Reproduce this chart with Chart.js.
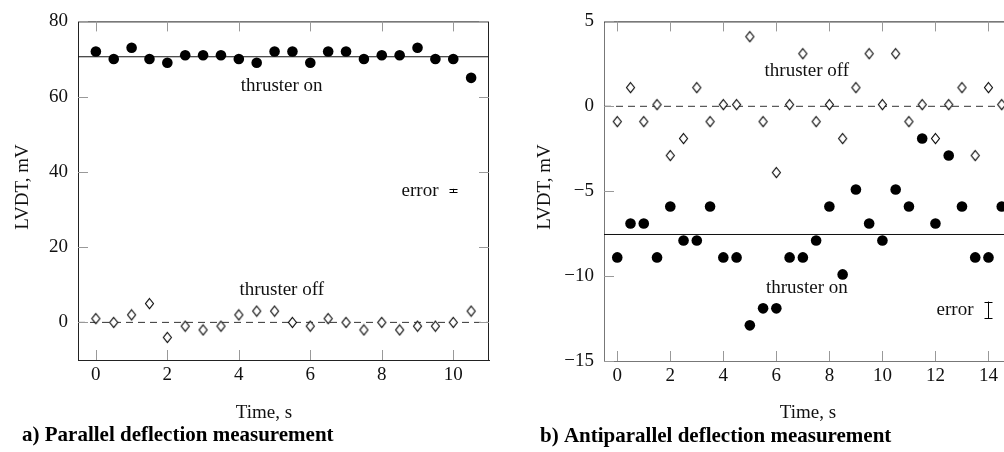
<!DOCTYPE html>
<html>
<head>
<meta charset="utf-8">
<script src="https://cdn.jsdelivr.net/npm/chart.js@4.4.1/dist/chart.umd.min.js"></script>
<style>
  html, body { margin: 0; padding: 0; background: #fff; overflow: hidden; }
  body { width: 1004px; height: 452px; position: relative; }
  canvas { position: absolute; top: 0; }
  #chartA { left: 0; }
  #chartB { left: 520px; }
</style>
</head>
<body>
<canvas id="chartA" width="520" height="452"></canvas>
<canvas id="chartB" width="530" height="452"></canvas>
<script>
// a) parallel deflection
const timeA = [0, 0.5, 1, 1.5, 2, 2.5, 3, 3.5, 4, 4.5, 5, 5.5, 6, 6.5, 7, 7.5, 8, 8.5, 9, 9.5, 10, 10.5];
const onA = [72, 70, 73, 70, 69, 71, 71, 71, 70, 69, 72, 72, 69, 72, 72, 70, 71, 71, 73, 70, 70, 65];
const offA = [1, 0, 2, 5, -4, -1, -2, -1, 2, 3, 3, 0, -1, 1, 0, -2, 0, -2, -1, -1, 0, 3];
const meanOnA = 70.6;
const meanOffA = 0;
const errorA = [10, 35, 0.5]; // time, value, half-width
const xTicksA = [0, 2, 4, 6, 8, 10];
const yTicksA = [0, 20, 40, 60, 80];

// b) antiparallel deflection
const timeB = [0, 0.5, 1, 1.5, 2, 2.5, 3, 3.5, 4, 4.5, 5, 5.5, 6, 6.5, 7, 7.5, 8, 8.5, 9, 9.5, 10, 10.5, 11, 11.5, 12, 12.5, 13, 13.5, 14, 14.5];
const onB = [-8.9, -6.9, -6.9, -8.9, -5.9, -7.9, -7.9, -5.9, -8.9, -8.9, -12.9, -11.9, -11.9, -8.9, -8.9, -7.9, -5.9, -9.9, -4.9, -6.9, -7.9, -4.9, -5.9, -1.9, -6.9, -2.9, -5.9, -8.9, -8.9, -5.9];
const offB = [-0.9, 1.1, -0.9, 0.1, -2.9, -1.9, 1.1, -0.9, 0.1, 0.1, 4.1, -0.9, -3.9, 0.1, 3.1, -0.9, 0.1, -1.9, 1.1, 3.1, 0.1, 3.1, -0.9, 0.1, -1.9, 0.1, 1.1, -2.9, 1.1, 0.1];
const meanOnB = -7.55;
const meanOffB = 0;
const errorB = [14, -12, 0.5];
const xTicksB = [0, 2, 4, 6, 8, 10, 12, 14];
const yTicksB = [-15, -10, -5, 0, 5];

const serif = '"Liberation Serif", "Times New Roman", serif';

// open diamond marker, a bit taller than wide
const diamond = document.createElement('canvas');
diamond.width = 11;
diamond.height = 13;
const dctx = diamond.getContext('2d');
dctx.beginPath();
dctx.moveTo(5.5, 1.5);
dctx.lineTo(9.5, 6.5);
dctx.lineTo(5.5, 11.5);
dctx.lineTo(1.5, 6.5);
dctx.closePath();
dctx.fillStyle = '#fff';
dctx.fill();
dctx.lineWidth = 1.1;
dctx.strokeStyle = '#000';
dctx.stroke();

const fmt = v => String(v).replace('-', '\u2212');

// frame, inward ticks, error bar and text labels
const decor = {
  id: 'decor',
  afterDraw(chart, args, o) {
    const {ctx, chartArea: a, scales: {x, y}} = chart;
    ctx.save();
    ctx.lineWidth = 1;

    ctx.strokeStyle = '#222';
    ctx.beginPath();
    ctx.moveTo(a.left, a.top + 0.5);
    ctx.lineTo(a.right, a.top + 0.5);
    ctx.moveTo(a.right - 0.5, a.top);
    ctx.lineTo(a.right - 0.5, a.bottom);
    ctx.stroke();

    ctx.strokeStyle = '#999';
    ctx.beginPath();
    x.ticks.forEach(t => {
      const px = Math.round(x.getPixelForValue(t.value)) + 0.5;
      ctx.moveTo(px, a.bottom);
      ctx.lineTo(px, a.bottom - 10);
      ctx.moveTo(px, a.top);
      ctx.lineTo(px, a.top + 10);
    });
    y.ticks.forEach(t => {
      const py = Math.round(y.getPixelForValue(t.value)) + 0.5;
      ctx.moveTo(a.left, py);
      ctx.lineTo(a.left + 10, py);
      ctx.moveTo(a.right, py);
      ctx.lineTo(a.right - 10, py);
    });
    ctx.stroke();

    // error bar
    const [ex, ey, ee] = o.error;
    const bx = Math.round(x.getPixelForValue(ex)) + 0.5;
    const top = y.getPixelForValue(ey + ee);
    const bot = y.getPixelForValue(ey - ee);
    ctx.strokeStyle = '#000';
    ctx.beginPath();
    ctx.moveTo(bx, top);
    ctx.lineTo(bx, bot);
    ctx.moveTo(bx - 4, Math.round(top) + 0.5);
    ctx.lineTo(bx + 4, Math.round(top) + 0.5);
    ctx.moveTo(bx - 4, Math.round(bot) - 0.5);
    ctx.lineTo(bx + 4, Math.round(bot) - 0.5);
    ctx.stroke();

    ctx.fillStyle = '#111';
    ctx.font = '19px ' + serif;
    ctx.textBaseline = 'middle';
    ctx.textAlign = 'right';
    ctx.fillText('error', bx - 15, y.getPixelForValue(ey));

    ctx.textAlign = 'center';
    o.notes.forEach(n => ctx.fillText(n.text, x.getPixelForValue(n.x), y.getPixelForValue(n.y)));

    ctx.fillText('Time, s', o.xTitle[0], o.xTitle[1]);

    ctx.save();
    ctx.translate(o.yTitle[0], o.yTitle[1]);
    ctx.rotate(-Math.PI / 2);
    ctx.fillText('LVDT, mV', 0, 0);
    ctx.restore();

    ctx.textAlign = 'left';
    ctx.font = 'bold 21px ' + serif;
    ctx.fillStyle = '#000';
    ctx.fillText(o.caption, o.captionPos[0], o.captionPos[1]);
    ctx.restore();
  }
};

const makeChart = (id, p) => {
  const canvas = document.getElementById(id);
  const W = canvas.width, H = canvas.height;
  const pts = vals => p.time.map((t, i) => ({x: t, y: vals[i]}));
  return new Chart(canvas, {
    type: 'scatter',
    data: {
      datasets: [
        {data: pts(p.on), pointStyle: 'circle', pointRadius: 5.3, backgroundColor: '#000', borderWidth: 0, order: 1},
        {data: pts(p.off), pointStyle: diamond, pointRadius: 5, order: 1},
        {type: 'line', data: [{x: p.xMin, y: p.meanOn}, {x: p.xMax, y: p.meanOn}], borderColor: '#111', borderWidth: 1, pointRadius: 0, order: 2},
        {type: 'line', data: [{x: p.xMin, y: p.meanOff}, {x: p.xMax, y: p.meanOff}], borderColor: '#333', borderWidth: 1, borderDash: [7, 5], pointRadius: 0, order: 2}
      ]
    },
    options: {
      responsive: false,
      animation: false,
      events: [],
      layout: {padding: {left: 0, top: p.area.top, right: W - p.area.right, bottom: 0}},
      plugins: {
        legend: {display: false},
        tooltip: {enabled: false},
        decor: p.decor
      },
      scales: {
        x: {
          type: 'linear', min: p.xMin, max: p.xMax,
          grid: {display: false, drawTicks: false},
          border: {display: true, color: p.axisColor},
          ticks: {font: {family: serif, size: 19}, color: '#111', padding: 4, callback: fmt},
          afterBuildTicks: s => { s.ticks = p.xTicks.map(v => ({value: v})); },
          afterFit: s => { s.height = H - p.area.bottom; }
        },
        y: {
          type: 'linear', min: p.yMin, max: p.yMax,
          grid: {display: false, drawTicks: false},
          border: {display: true, color: p.axisColor},
          ticks: {font: {family: serif, size: 19}, color: '#111', padding: 10, callback: fmt},
          afterBuildTicks: s => { s.ticks = p.yTicks.map(v => ({value: v})); },
          afterFit: s => { s.width = p.area.left; }
        }
      }
    },
    plugins: [decor]
  });
};

makeChart('chartA', {
  time: timeA, on: onA, off: offA, meanOn: meanOnA, meanOff: meanOffA,
  xMin: -0.5, xMax: 11, yMin: -10, yMax: 80,
  xTicks: xTicksA, yTicks: yTicksA,
  area: {left: 78, right: 489, top: 18, bottom: 360},
  axisColor: '#222',
  decor: {
    error: errorA,
    notes: [{text: 'thruster on', x: 5.2, y: 62.7}, {text: 'thruster off', x: 5.2, y: 8.6}],
    xTitle: [264, 413],
    yTitle: [23, 187],
    caption: 'a) Parallel deflection measurement',
    captionPos: [22, 436]
  }
});

makeChart('chartB', {
  time: timeB, on: onB, off: offB, meanOn: meanOnB, meanOff: meanOffB,
  xMin: -0.5, xMax: 15, yMin: -15, yMax: 5,
  xTicks: xTicksB, yTicks: yTicksB,
  area: {left: 84, right: 495, top: 18, bottom: 361},
  axisColor: '#777',
  decor: {
    error: errorB,
    notes: [{text: 'thruster off', x: 7.15, y: 2.1}, {text: 'thruster on', x: 7.15, y: -10.7}],
    xTitle: [288, 413],
    yTitle: [25, 187],
    caption: 'b) Antiparallel deflection measurement',
    captionPos: [20, 437]
  }
});
</script>
</body>
</html>
